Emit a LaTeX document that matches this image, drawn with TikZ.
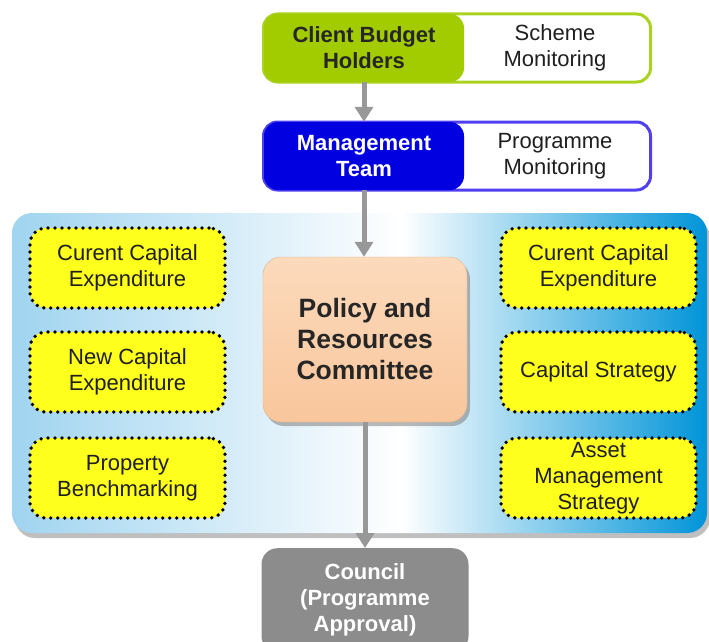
\documentclass[tikz,border=0pt]{standalone}
\usepackage{fontspec}
\setmainfont{Liberation Sans}
\usetikzlibrary{arrows.meta,shadows}

\definecolor{cbhgreen}{RGB}{162,204,0}
\definecolor{cbhline}{RGB}{170,210,30}
\definecolor{mgtblue}{RGB}{0,0,224}
\definecolor{mgtline}{RGB}{80,64,240}
\definecolor{peachtop}{RGB}{252,218,188}
\definecolor{peachbot}{RGB}{249,198,156}
\definecolor{itemyellow}{RGB}{255,255,30}
\definecolor{councilgray}{RGB}{140,140,140}
\definecolor{arrowgray}{RGB}{152,152,152}
\definecolor{panelleft}{RGB}{160,212,240}
\definecolor{panelright}{RGB}{0,148,216}
\pgfdeclarehorizontalshading{panelshade}{100bp}{color(0bp)=(panelleft); color(25bp)=(panelleft); color(53bp)=(white); color(75bp)=(panelright); color(100bp)=(panelright)}

\begin{document}
\begin{tikzpicture}[x=1pt,y=-1pt,
        txt/.style={font=\fontsize{22}{26}\selectfont,align=center,text=black!88},
        frame/.style={draw,line width=3pt,fill=white,rounded corners=14pt,minimum width=387pt,minimum height=68pt},
        head/.style={font=\fontsize{22}{26}\selectfont\bfseries,align=center,rounded corners=14pt,minimum width=200pt,minimum height=68pt},
        item/.style={txt,fill=itemyellow,draw=black,line width=3.8pt,dash pattern=on 0pt off 7pt,line cap=round,rounded corners=16pt,minimum width=195pt,minimum height=80pt,inner ysep=2pt},
        flow/.style={arrowgray,line width=5pt,-{Triangle[width=18pt,length=15pt]}}]
    \useasboundingbox (0,0) rectangle (709,642);
    %panel
    \path[rounded corners=20pt,shading=panelshade,drop shadow={shadow xshift=3pt,shadow yshift=-5pt,opacity=0.5}] (12,213) rectangle (707,533);

    \node[frame,draw=cbhline] (cbhframe) at (457,48) {};
    \node[head,fill=cbhgreen,text=black!85] (cbh) at (364,48) {Client Budget\\Holders};
    \node[txt] (scheme) at (555,48) {Scheme\\Monitoring};

    \node[frame,draw=mgtline] (mgtframe) at (457,156) {};
    \node[head,fill=mgtblue,text=white] (mgt) at (364,156) {Management\\Team};
    \node[txt] (progmon) at (555,156) {Programme\\Monitoring};

    \node[font=\fontsize{26.5}{31}\selectfont\bfseries,align=center,text=black!85,top color=peachtop,bottom color=peachbot,draw=peachbot!90!black,rounded corners=18pt,minimum width=204pt,minimum height=165pt,drop shadow={shadow xshift=3pt,shadow yshift=-4pt,opacity=0.55}] (prc) at (365,339.5) {Policy and\\Resources\\Committee};

    \node[head,fill=councilgray,text=white,rounded corners=16pt,minimum width=207pt,minimum height=104pt,anchor=north] (council) at (365,548) {Council\\(Programme\\Approval)};

    %left column
    \node[item] (lcur) at (127.5,268) {Curent Capital\\Expenditure};
    \node[item] (lnew) at (127.5,372) {New Capital\\Expenditure};
    \node[item] (lbench) at (127.5,478) {Property\\Benchmarking};
    %right column
    \node[item] (rcur) at (598.5,268) {Curent Capital\\Expenditure};
    \node[item] (rstrat) at (598.5,372) {Capital Strategy};
    \node[item] (rasset) at (598.5,478) {Asset\\Management\\Strategy};

    \draw[flow] (cbh.south) -- (cbh.south |- mgt.north);
    \draw[flow] (mgt.south) -- (mgt.south |- prc.north);
    \draw[flow] (prc.south) -- (council.north);
\end{tikzpicture}
\end{document}
